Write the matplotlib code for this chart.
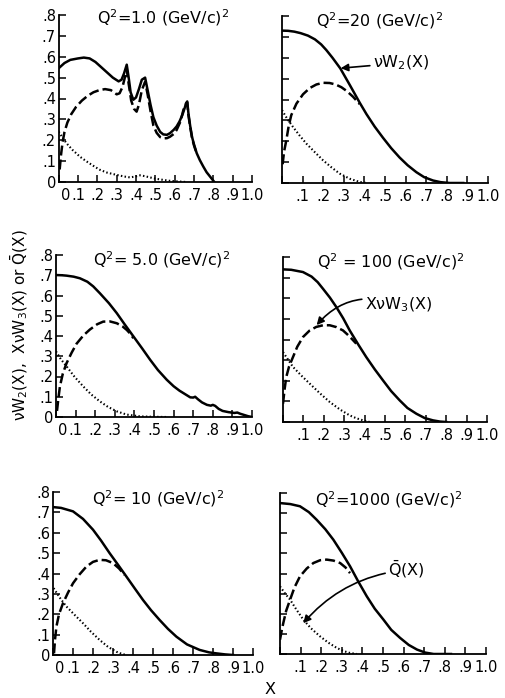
import matplotlib
matplotlib.use('Agg')
import matplotlib.pyplot as plt
import matplotlib.transforms as mtransforms

plt.rcParams['font.family'] = ['DejaVu Sans']
plt.rcParams['mathtext.fontset'] = 'dejavusans'

# valores: nu W2 (cheia), x nu W3 (tracejada), Qbar (pontilhada)
titles = [r'$\mathregular{Q^2}$=1.0 (GeV/c)$\mathregular{^2}$',
          r'$\mathregular{Q^2}$=20 (GeV/c)$\mathregular{^2}$',
          r'$\mathregular{Q^2}$= 5.0 (GeV/c)$\mathregular{^2}$',
          r'$\mathregular{Q^2}$ = 100 (GeV/c)$\mathregular{^2}$',
          r'$\mathregular{Q^2}$= 10 (GeV/c)$\mathregular{^2}$',
          r'$\mathregular{Q^2}$=1000 (GeV/c)$\mathregular{^2}$']

# Q2 = 1.0
w2_x_q1 = [0, 0.03, 0.06, 0.10, 0.13, 0.16, 0.19, 0.22, 0.25, 0.28, 0.31, 0.325, 0.338, 0.352,
           0.362, 0.372, 0.386, 0.40, 0.415, 0.43, 0.447, 0.46, 0.475, 0.49, 0.507, 0.525, 0.541,
           0.56, 0.576, 0.595, 0.61, 0.625, 0.64, 0.652, 0.659, 0.665, 0.671, 0.68, 0.69, 0.70,
           0.714, 0.73, 0.748, 0.765, 0.783, 0.795, 0.805]
w2_y_q1 = [0.545, 0.57, 0.585, 0.592, 0.596, 0.592, 0.575, 0.55, 0.525, 0.50, 0.482, 0.49, 0.52,
           0.562, 0.50, 0.43, 0.394, 0.405, 0.445, 0.49, 0.50, 0.44, 0.37, 0.31, 0.27, 0.24, 0.228,
           0.226, 0.234, 0.25, 0.266, 0.29, 0.322, 0.355, 0.378, 0.386, 0.33, 0.27, 0.215, 0.18,
           0.138, 0.105, 0.074, 0.047, 0.026, 0.012, 0.0]
w3_x_q1 = [0.005, 0.012, 0.02, 0.03, 0.045, 0.065, 0.09, 0.12, 0.15, 0.18, 0.21, 0.24, 0.27, 0.3,
           0.315, 0.33, 0.342, 0.352, 0.362, 0.375, 0.39, 0.403, 0.415, 0.43, 0.447, 0.46, 0.475,
           0.49, 0.507, 0.525, 0.541, 0.56, 0.576, 0.595, 0.61, 0.63, 0.645, 0.659, 0.665, 0.671,
           0.68, 0.69, 0.70, 0.714]
w3_y_q1 = [0.06, 0.13, 0.19, 0.24, 0.285, 0.325, 0.36, 0.39, 0.413, 0.43, 0.44, 0.445, 0.44, 0.42,
           0.425, 0.455, 0.5, 0.54, 0.47, 0.39, 0.35, 0.337, 0.37, 0.44, 0.48, 0.42, 0.34, 0.27,
           0.235, 0.215, 0.209, 0.21, 0.217, 0.23, 0.249, 0.29, 0.345, 0.374, 0.38, 0.32, 0.265,
           0.21, 0.175, 0.136]
qb_x_q1 = [0, 0.02, 0.041, 0.07, 0.11, 0.15, 0.19, 0.214, 0.25, 0.3, 0.34, 0.369, 0.395, 0.421,
           0.445, 0.472, 0.5, 0.541, 0.58, 0.628, 0.66]
qb_y_q1 = [0.241, 0.212, 0.185, 0.155, 0.121, 0.095, 0.071, 0.058, 0.045, 0.034, 0.026, 0.022,
           0.026, 0.032, 0.028, 0.022, 0.016, 0.01, 0.005, 0.002, 0.0]

# Q2 = 20
w2_x_q20 = [0, 0.03, 0.06, 0.09, 0.126, 0.16, 0.19, 0.215, 0.245, 0.283, 0.33, 0.377, 0.41, 0.45,
            0.49, 0.53, 0.571, 0.61, 0.652, 0.69, 0.733, 0.77, 0.814, 0.88]
w2_y_q20 = [0.73, 0.729, 0.725, 0.718, 0.706, 0.688, 0.664, 0.637, 0.6, 0.549, 0.468, 0.385, 0.33,
            0.27, 0.217, 0.167, 0.122, 0.085, 0.052, 0.028, 0.012, 0.004, 0.0, 0.0]
w3_x_q20 = [0.003, 0.01, 0.021, 0.032, 0.045, 0.07, 0.102, 0.135, 0.167, 0.2, 0.231, 0.26, 0.288,
            0.315, 0.345, 0.377]
w3_y_q20 = [0.09, 0.15, 0.205, 0.27, 0.325, 0.38, 0.425, 0.455, 0.472, 0.48, 0.479, 0.472, 0.459,
            0.44, 0.413, 0.378]
qb_x_q20 = [0, 0.025, 0.053, 0.085, 0.118, 0.16, 0.199, 0.24, 0.28, 0.33, 0.377, 0.41]
qb_y_q20 = [0.349, 0.308, 0.269, 0.228, 0.189, 0.147, 0.109, 0.075, 0.045, 0.02, 0.005, 0.0]

# Q2 = 5.0
w2_x_q5 = [0, 0.03, 0.054, 0.09, 0.122, 0.16, 0.19, 0.224, 0.27, 0.31, 0.35, 0.395, 0.44, 0.48,
           0.52, 0.565, 0.60, 0.63, 0.66, 0.685, 0.70, 0.71, 0.725, 0.745, 0.77, 0.79, 0.80, 0.812,
           0.83, 0.85, 0.88, 0.91, 0.925, 0.94, 0.96, 0.98, 1.0]
w2_y_q5 = [0.701, 0.7, 0.698, 0.693, 0.685, 0.668, 0.645, 0.611, 0.562, 0.513, 0.458, 0.398, 0.338,
           0.283, 0.232, 0.184, 0.152, 0.13, 0.112, 0.097, 0.096, 0.1, 0.087, 0.072, 0.06, 0.056,
           0.06, 0.055, 0.04, 0.03, 0.024, 0.02, 0.022, 0.016, 0.01, 0.004, 0.0]
w3_x_q5 = [0.005, 0.012, 0.02, 0.035, 0.054, 0.08, 0.105, 0.14, 0.173, 0.21, 0.241, 0.275, 0.31,
           0.34, 0.361, 0.38, 0.395]
w3_y_q5 = [0.03, 0.09, 0.151, 0.215, 0.266, 0.318, 0.362, 0.403, 0.432, 0.458, 0.471, 0.472, 0.463,
           0.447, 0.43, 0.41, 0.389]
qb_x_q5 = [0, 0.025, 0.054, 0.095, 0.139, 0.18, 0.224, 0.265, 0.31, 0.36, 0.429, 0.5, 0.565]
qb_y_q5 = [0.324, 0.285, 0.25, 0.198, 0.151, 0.111, 0.077, 0.05, 0.028, 0.012, 0.003, 0.001, 0.0]

# Q2 = 100
w2_x_q100 = [0, 0.04, 0.098, 0.14, 0.17, 0.196, 0.23, 0.261, 0.295, 0.327, 0.37, 0.408, 0.45, 0.49,
             0.53, 0.572, 0.61, 0.654, 0.695, 0.735, 0.77, 0.8]
w2_y_q100 = [0.74, 0.738, 0.727, 0.705, 0.678, 0.646, 0.603, 0.558, 0.503, 0.444, 0.374, 0.315,
             0.255, 0.202, 0.15, 0.105, 0.068, 0.04, 0.019, 0.008, 0.002, 0.0]
w3_x_q100 = [0, 0.008, 0.016, 0.03, 0.049, 0.07, 0.098, 0.13, 0.163, 0.196, 0.229, 0.262, 0.294,
             0.325, 0.359]
w3_y_q100 = [0.089, 0.16, 0.218, 0.27, 0.315, 0.365, 0.412, 0.443, 0.461, 0.469, 0.469, 0.46, 0.444,
             0.416, 0.38]
qb_x_q100 = [0, 0.025, 0.049, 0.09, 0.131, 0.18, 0.229, 0.28, 0.327, 0.36, 0.392, 0.425]
qb_y_q100 = [0.339, 0.302, 0.267, 0.225, 0.186, 0.14, 0.097, 0.06, 0.032, 0.018, 0.008, 0.0]

# Q2 = 10
w2_x_q10 = [0, 0.04, 0.1, 0.15, 0.2, 0.24, 0.283, 0.325, 0.367, 0.41, 0.45, 0.49, 0.533, 0.575,
            0.617, 0.67, 0.733, 0.78, 0.817, 0.86, 0.9]
w2_y_q10 = [0.726, 0.722, 0.705, 0.668, 0.615, 0.562, 0.5, 0.443, 0.385, 0.325, 0.27, 0.22, 0.172,
            0.128, 0.09, 0.052, 0.025, 0.013, 0.008, 0.003, 0.0]
w3_x_q10 = [0.005, 0.01, 0.017, 0.03, 0.05, 0.075, 0.1, 0.133, 0.167, 0.2, 0.233, 0.265, 0.3, 0.33,
            0.358]
w3_y_q10 = [0.008, 0.075, 0.139, 0.2, 0.254, 0.306, 0.352, 0.396, 0.434, 0.457, 0.467, 0.465, 0.451,
            0.425, 0.393]
qb_x_q10 = [0.003, 0.035, 0.067, 0.11, 0.15, 0.19, 0.233, 0.275, 0.317, 0.345, 0.367]
qb_y_q10 = [0.328, 0.28, 0.238, 0.195, 0.156, 0.114, 0.074, 0.04, 0.016, 0.005, 0.0]

# Q2 = 1000
w2_x_q1000 = [0, 0.05, 0.097, 0.14, 0.178, 0.22, 0.259, 0.3, 0.34, 0.38, 0.421, 0.46, 0.502, 0.54,
              0.583, 0.625, 0.665, 0.705, 0.746, 0.83]
w2_y_q1000 = [0.75, 0.745, 0.734, 0.705, 0.667, 0.62, 0.568, 0.503, 0.436, 0.36, 0.287, 0.225,
              0.171, 0.12, 0.08, 0.045, 0.022, 0.007, 0.0, 0.0]
w3_x_q1000 = [0, 0.008, 0.016, 0.03, 0.049, 0.07, 0.097, 0.13, 0.162, 0.195, 0.227, 0.26, 0.292,
              0.318, 0.34]
w3_y_q1000 = [0.071, 0.115, 0.154, 0.215, 0.27, 0.33, 0.386, 0.425, 0.452, 0.466, 0.469, 0.464,
              0.452, 0.43, 0.402]
qb_x_q1000 = [0, 0.025, 0.049, 0.08, 0.113, 0.15, 0.194, 0.235, 0.276, 0.31, 0.34, 0.373]
qb_y_q1000 = [0.336, 0.3, 0.27, 0.22, 0.171, 0.128, 0.088, 0.056, 0.03, 0.014, 0.005, 0.0]

xticks = [0, 0.1, 0.2, 0.3, 0.4, 0.5, 0.6, 0.7, 0.8, 0.9, 1.0]
xlabels = ['0', '.1', '.2', '.3', '.4', '.5', '.6', '.7', '.8', '.9', '1.0']
yticks = [0, 0.1, 0.2, 0.3, 0.4, 0.5, 0.6, 0.7, 0.8]
ylabels = ['0', '.1', '.2', '.3', '.4', '.5', '.6', '.7', '.8']

curves = [
    (w2_x_q1, w2_y_q1, w3_x_q1, w3_y_q1, qb_x_q1, qb_y_q1),
    (w2_x_q20, w2_y_q20, w3_x_q20, w3_y_q20, qb_x_q20, qb_y_q20),
    (w2_x_q5, w2_y_q5, w3_x_q5, w3_y_q5, qb_x_q5, qb_y_q5),
    (w2_x_q100, w2_y_q100, w3_x_q100, w3_y_q100, qb_x_q100, qb_y_q100),
    (w2_x_q10, w2_y_q10, w3_x_q10, w3_y_q10, qb_x_q10, qb_y_q10),
    (w2_x_q1000, w2_y_q1000, w3_x_q1000, w3_y_q1000, qb_x_q1000, qb_y_q1000),
]

# posição dos eixos em pixels: esquerda, direita, base, topo
W, H = 505, 698
boxes = [(58.7, 252, 182, 15), (282, 488, 183, 16),
         (56, 252, 417, 255), (283, 487, 422, 257),
         (53, 253, 655, 492), (280, 486, 654, 493)]
title_pos = [(0.20, 0.785), (0.165, 0.78), (0.19, 0.775),
             (0.167, 0.778), (0.195, 0.765), (0.17, 0.766)]

fig = plt.figure(figsize=(W / 100, H / 100), dpi=100)

axs = []
for i, (l, r, b, t) in enumerate(boxes):
    ax = fig.add_axes([l / W, 1 - b / H, (r - l) / W, (b - t) / H])
    axs.append(ax)
    w2x, w2y, w3x, w3y, qx, qy = curves[i]
    ax.plot(qx, qy, color='k', lw=1.5, linestyle=(0, (0.7, 1.1)))
    ax.plot(w3x, w3y, color='k', lw=1.8, linestyle=(0, (4, 1.6)))
    ax.plot(w2x, w2y, color='k', lw=1.8)

    ax.set_xlim(0, 1.0)
    ax.set_ylim(0, 0.8)
    for s in ['top', 'right']:
        ax.spines[s].set_visible(False)
    for s in ['left', 'bottom']:
        ax.spines[s].set_linewidth(1.3)
    ax.tick_params(direction='in', length=5, width=1.1, labelsize=10.5)
    ax.tick_params(axis='x', pad=4)
    ax.tick_params(axis='y', pad=2)
    ax.set_xticks(xticks)
    ax.set_yticks(yticks)
    if i % 2 == 0:
        ax.set_xticklabels(xlabels)
        ax.set_yticklabels(ylabels)
        # o "0" do eixo x fica um pouco deslocado para a direita
        lab0 = ax.get_xticklabels()[0]
        off = mtransforms.ScaledTranslation(7 / 100, 0, fig.dpi_scale_trans)
        lab0.set_transform(lab0.get_transform() + off)
    else:
        ax.set_xticklabels([''] + xlabels[1:])
        ax.set_yticklabels([])
    ax.text(title_pos[i][0], title_pos[i][1], titles[i], fontsize=11.5,
            ha='left', va='center')

arrow = dict(arrowstyle='-|>', color='k', lw=1.2, mutation_scale=11,
             shrinkA=0, shrinkB=0)
axs[1].annotate(r'ν$\mathregular{W_2}$(X)', xy=(0.285, 0.55), xytext=(0.44, 0.575),
                fontsize=11.5, va='center', ha='left', arrowprops=arrow)
axs[3].annotate(r'Xν$\mathregular{W_3}$(X)', xy=(0.165, 0.47), xytext=(0.40, 0.568),
                fontsize=11.5, va='center', ha='left',
                arrowprops=dict(arrow, connectionstyle='arc3,rad=0.35'))
axs[5].annotate(r'$\mathregular{\bar{Q}}$(X)', xy=(0.113, 0.153), xytext=(0.524, 0.418),
                fontsize=11.5, va='center', ha='left',
                arrowprops=dict(arrow, connectionstyle='arc3,rad=0.2'))

fig.text(19 / W, 1 - 325 / H,
         r'ν$\mathregular{W_2}$(X),  Xν$\mathregular{W_3}$(X) or $\mathregular{\bar{Q}}$(X)',
         rotation=90, fontsize=11, ha='center', va='center')
fig.text(270 / W, 1 - 690 / H, 'X', fontsize=11.5, ha='center', va='center')

fig.savefig('out.png', dpi=100)
